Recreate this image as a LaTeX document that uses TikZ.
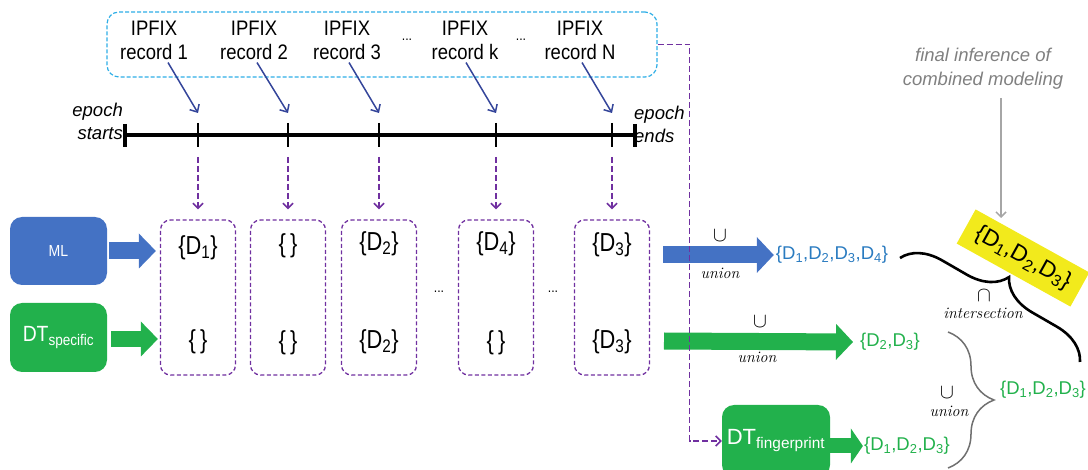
\documentclass[tikz,border=0pt]{standalone}
\usepackage{fontspec}
\usetikzlibrary{arrows.meta,decorations.pathreplacing}
\newfontfamily\narrowf[FakeStretch=0.88]{Liberation Sans}
\newfontfamily\condf[FakeStretch=0.84]{Liberation Sans}
\newfontfamily\robf{Liberation Sans}
\definecolor{lblue}{HTML}{2EAEE6}
\definecolor{navy}{HTML}{34459A}
\definecolor{purp}{HTML}{7030A0}
\definecolor{mlblue}{HTML}{4472C4}
\definecolor{dtgreen}{HTML}{22B14C}
\definecolor{setblue}{HTML}{2A7BC0}
\definecolor{yel}{HTML}{F2EA1C}
\definecolor{gbrace}{HTML}{707070}
\definecolor{garrow}{HTML}{A6A6A6}
\definecolor{gtext}{HTML}{808080}
\begin{document}
\begin{tikzpicture}[x=1pt,y=-1pt,
  ipfix/.style={font=\narrowf\fontsize{21}{24}\selectfont, align=center, inner sep=1pt},
  setc/.style={font=\condf\fontsize{26}{28}\selectfont, inner sep=0pt},
  rset/.style={font=\robf\fontsize{18.5}{20}\selectfont, inner sep=0pt},
  navyarr/.style={draw=navy, line width=1.5pt, -{Straight Barb[length=6pt,width=11pt]}},
  pdash/.style={draw=purp, line width=1.6pt, dash pattern=on 6pt off 3pt},
  pbox/.style={draw=purp, line width=1.3pt, dash pattern=on 4pt off 2.5pt, rounded corners=10pt, minimum width=75pt, minimum height=155pt},
  blk/.style n args={4}{draw=#1, line width=#2, -{Triangle[length=#3,width=#4,line width=0pt,fill=#1]}},
  cupc/.style={font=\fontsize{21}{21}\selectfont, inner sep=0pt},
  unionc/.style={font=\fontsize{16}{16}\selectfont\itshape, inner sep=0pt},
  epochc/.style={font=\robf\itshape\fontsize{18.5}{23}\selectfont, inner sep=0pt},
]
\useasboundingbox (0,0) rectangle (1088,470);

% IPFIX container
\node[draw=lblue, dash pattern=on 4pt off 2pt, line width=1.2pt, rounded corners=12pt,
      minimum width=550pt, minimum height=65pt] (rec) at (382,44.5) {};
\node[ipfix] (r1) at (154,40) {IPFIX\\record 1};
\node[ipfix] (r2) at (254,40) {IPFIX\\record 2};
\node[ipfix] (r3) at (347,40) {IPFIX\\record 3};
\node[ipfix] (rk) at (465,40) {IPFIX\\record k};
\node[ipfix] (rN) at (580,40) {IPFIX\\record N};
\node[font=\narrowf\fontsize{14}{14}\selectfont, inner sep=0pt] (dd1) at (407,40) {...};
\node[font=\narrowf\fontsize{14}{14}\selectfont, inner sep=0pt] (dd2) at (521,40) {...};

% timeline
\coordinate (ts) at (125,135);
\coordinate (te) at (635,135);
\coordinate (t1) at (198,135);
\coordinate (t2) at (288,135);
\coordinate (t3) at (379,135);
\coordinate (t4) at (496,135);
\coordinate (t5) at (612,135);
\draw[line width=4pt] (ts) -- (te);
\draw[line width=4pt] ([yshift=11]ts) -- ([yshift=-12]ts);
\draw[line width=4pt] ([yshift=11]te) -- ([yshift=-12]te);
\foreach \t in {t1,t2,t3,t4,t5}
  \draw[line width=1.2pt] ([yshift=12]\t) -- ([yshift=-12]\t);
\node[epochc, anchor=east, align=right] (es) at (123,121.5) {epoch\\starts};
\node[epochc, anchor=west, align=left] (ee) at (634,124.5) {epoch\\ends};

% navy arrows
\draw[navyarr] ([xshift=14,yshift=-2]r1.south) -- ([yshift=22]t1);
\draw[navyarr] ([xshift=3,yshift=-2]r2.south) -- ([yshift=22]t2);
\draw[navyarr] ([xshift=2,yshift=-2]r3.south) -- ([yshift=22]t3);
\draw[navyarr] ([xshift=1,yshift=-2]rk.south) -- ([yshift=22]t4);
\draw[navyarr] ([xshift=2,yshift=-2]rN.south) -- ([yshift=22]t5);

% epoch boxes
\node[pbox] (b1) at (198,297.5) {};
\node[pbox] (b2) at (288,297.5) {};
\node[pbox] (b3) at (379,297.5) {};
\node[pbox] (b4) at (496,297.5) {};
\node[pbox] (b5) at (612,297.5) {};
\foreach \t/\b in {t1/b1,t2/b2,t3/b3,t4/b4,t5/b5}
  \draw[pdash, -{Straight Barb[length=5pt,width=10pt]}] ([yshift=-22]\t) -- ([yshift=10]\b.north);

\node[setc] (s11) at (198,248) {\{D\textsubscript{1}\}};
\node[setc] (s21) at (288,246) {\{\,\}};
\node[setc] (s31) at (379,244) {\{D\textsubscript{2}\}};
\node[setc] (s41) at (496,244) {\{D\textsubscript{4}\}};
\node[setc] (s51) at (612,245) {\{D\textsubscript{3}\}};
\node[setc] (s12) at (198,342) {\{\,\}};
\node[setc] (s22) at (288,343) {\{\,\}};
\node[setc] (s32) at (379,342) {\{D\textsubscript{2}\}};
\node[setc] (s42) at (496,343) {\{\,\}};
\node[setc] (s52) at (612,342) {\{D\textsubscript{3}\}};
\node[font=\narrowf\fontsize{14}{14}\selectfont, inner sep=0pt] (dd3) at (439,292) {...};
\node[font=\narrowf\fontsize{14}{14}\selectfont, inner sep=0pt] (dd4) at (553,292) {...};

% model boxes
\node[fill=mlblue, rounded corners=12pt, minimum width=97pt, minimum height=68pt, text=white,
      font=\narrowf\fontsize{16}{16}\selectfont] (ml) at (58.5,251) {ML};
\node[fill=dtgreen, rounded corners=12pt, minimum width=97pt, minimum height=69pt, text=white,
      font=\narrowf\fontsize{22}{22}\selectfont] (dts) at (58.5,337.5) {DT\textsubscript{specific}};
\draw[blk={mlblue}{17pt}{17pt}{35pt}] ([xshift=2]ml.east) -- ([xshift=-4]b1.west |- ml.east);
\draw[blk={dtgreen}{16pt}{17pt}{35pt}] ([xshift=4]dts.east |- 0,339) -- ([xshift=-2]b1.west |- 0,339);

% right side row 1
\node[rset, text=setblue] (u1) at (832,255) {\{D\textsubscript{1},D\textsubscript{2},D\textsubscript{3},D\textsubscript{4}\}};
\coordinate (a1) at (663,255);
\draw[blk={mlblue}{17pt}{17pt}{36pt}] (a1) -- ([xshift=-2]u1.west);
\node[cupc] (cup1) at (720,236) {$\cup$};
\node[unionc] (un1) at (720,273) {union};

% right side row 2
\node[rset, text=dtgreen] (u2) at (890,342) {\{D\textsubscript{2},D\textsubscript{3}\}};
\coordinate (a2) at (664,341);
\draw[blk={dtgreen}{17pt}{17pt}{36pt}] (a2) -- ([xshift=-7]u2.west);
\node[cupc] (cup2) at (760,322) {$\cup$};
\node[unionc] (un2) at (757,357) {union};

% fingerprint
\node[fill=dtgreen, rounded corners=12pt, minimum width=108pt, minimum height=72pt, text=white,
      font=\robf\fontsize{22}{22}\selectfont] (fp) at (776,441) {DT\textsubscript{fingerprint}};
\node[rset, text=dtgreen] (fps) at (907,446) {\{D\textsubscript{1},D\textsubscript{2},D\textsubscript{3}\}};
\draw[blk={dtgreen}{15pt}{12pt}{35pt}] (fp.east |- fps.west) -- ([xshift=-1]fps.west);

% purple routed dashed line
\draw[pdash, -{Straight Barb[length=5pt,width=10pt]}] (rec.east) -- ++(32,0) |- (fp.west);

% gray union brace
\coordinate (gb1) at (948,332);
\coordinate (gb2) at (948,468);
\draw[gbrace, line width=1.5pt, decorate, decoration={brace, amplitude=46pt}] (gb1) -- (gb2);
\node[rset, text=dtgreen] (un) at (1043,390) {\{D\textsubscript{1},D\textsubscript{2},D\textsubscript{3}\}};
\node[cupc] (cup3) at (947,393) {$\cup$};
\node[unionc] (un3) at (949,411) {union};

% black intersection brace
\coordinate (bb1) at (900,258);
\coordinate (bb2) at (1080,362);
\draw[line width=2.6pt, decorate, decoration={brace, amplitude=38pt}] (bb1) -- (bb2);
\node[cupc] (cap) at (984,296) {$\cap$};
\node[unionc] (inter) at (983,313) {intersection};

% final result
\node[fill=yel, rotate=-29, minimum width=130pt, minimum height=39pt, inner sep=0pt,
      font=\robf\fontsize{23}{23}\selectfont] (res) at (1023,258) {\{D\textsubscript{1},D\textsubscript{2},D\textsubscript{3}\}};
\node[font=\robf\itshape\fontsize{18.5}{24}\selectfont, text=gtext, align=center, inner sep=0pt] (fin) at (983,69) {final inference of\\combined modeling};
\coordinate (gtip) at (1001,218);
\draw[garrow, line width=1.5pt, -{Straight Barb[length=5pt,width=10pt]}] ([yshift=-8]fin.south -| gtip) -- (gtip);
\end{tikzpicture}
\end{document}
